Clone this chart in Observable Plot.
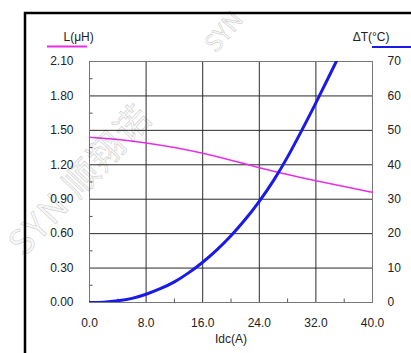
<!DOCTYPE html>
<html>
<head>
<meta charset="utf-8">
<script src="https://cdn.jsdelivr.net/npm/d3@7"></script>
<script src="https://cdn.jsdelivr.net/npm/@observablehq/plot@0.6"></script>
<style>
  html, body { margin: 0; padding: 0; background: #fff; }
  #chart svg { display: block; }
</style>
</head>
<body>
<div id="chart"></div>
<script>
// Tick labels
const idcTicks = [0, 8, 16, 24, 32, 40];
const idcMinor = [4, 12, 20, 28, 36];
const lTicks = [0, 0.3, 0.6, 0.9, 1.2, 1.5, 1.8, 2.1];
const lMinor = [0.15, 0.45, 0.75, 1.05, 1.35, 1.65, 1.95];
const tTicks = [0, 10, 20, 30, 40, 50, 60, 70];

// Inductance curve L(μH) vs Idc(A)
const idcL = [0, 4, 8, 12, 16, 20, 24, 28, 32, 36, 40];
const lValues = [1.44, 1.42, 1.39, 1.35, 1.30, 1.24, 1.175, 1.115, 1.06, 1.01, 0.96];

// Temperature rise ΔT(°C) vs Idc(A)
const idcT = [0, 2, 4, 6, 8, 10, 12, 14, 16, 18, 20, 22, 24, 26, 28, 30, 32, 34, 35];
const tValues = [0, 0.1, 0.5, 1.2, 2.4, 4.0, 6.0, 8.6, 11.7, 15.3, 19.4, 24.1, 29.4, 35.4, 42.3, 50.0, 58.0, 66.3, 70.5];

const lMax = 2.1, tMax = 70;
const k = lMax / tMax; // maps ΔT onto the L scale for the right-hand axis

const lData = idcL.map((x, i) => ({x, y: lValues[i]}));
const tData = idcT.map((x, i) => ({x, y: tValues[i] * k}));

const font = "'Liberation Sans', Arial, sans-serif";

const chart = Plot.plot({
  width: 411,
  height: 353,
  marginLeft: 89,
  marginRight: 39,
  marginTop: 61,
  marginBottom: 51,
  style: {fontFamily: font, fontSize: "12px", color: "#222", background: "#fff"},
  x: {domain: [0, 40]},
  y: {domain: [0, lMax]},
  marks: [
    Plot.gridX(idcTicks, {stroke: "#2a2a2a", strokeOpacity: 1}),
    Plot.gridY(lTicks, {stroke: "#2a2a2a", strokeOpacity: 1}),
    Plot.ruleY(lMinor, {y: d => d, x1: 0, x2: 0.5, stroke: "#555"}),
    Plot.ruleX(idcMinor, {x: d => d, y1: 0, y2: 0.03, stroke: "#555"}),
    Plot.frame({stroke: "#777"}),
    Plot.line(lData, {x: "x", y: "y", stroke: "#e62ee6", strokeWidth: 1.5, curve: "natural"}),
    Plot.line(tData, {x: "x", y: "y", stroke: "#1a1ae6", strokeWidth: 3, curve: "natural", clip: "frame"}),
    Plot.axisY(lTicks, {anchor: "left", label: null, tickSize: 0, tickPadding: 16, tickFormat: d => d.toFixed(2), fontSize: 12, fill: "#222"}),
    Plot.axisY(tTicks.map(t => t * k), {anchor: "right", label: null, tickSize: 0, tickPadding: 15, tickFormat: d => String(Math.round(d / k)), fontSize: 12, fill: "#222"}),
    Plot.axisX(idcTicks, {anchor: "bottom", label: null, tickSize: 0, tickPadding: 16, tickFormat: d => d.toFixed(1), fontSize: 12, fill: "#222"}),
    Plot.text(["Idc(A)"], {frameAnchor: "bottom", dy: 40, fontSize: 12, fill: "#222"}),
    Plot.text(["L(μH)"], {frameAnchor: "top-left", dx: -26, dy: -29, fontSize: 12, fill: "#222"}),
    Plot.text(["ΔT(°C)"], {frameAnchor: "top-right", dx: 17, dy: -29, fontSize: 12, fill: "#222"})
  ]
});

document.getElementById("chart").appendChild(chart);

// Decorations: legend underlines, outer border, watermark
const svg = d3.select(chart);
svg.append("line").attr("x1", 47).attr("x2", 87).attr("y1", 46.5).attr("y2", 46.5)
  .attr("stroke", "#e62ee6").attr("stroke-width", 2);
svg.append("line").attr("x1", 372).attr("x2", 411).attr("y1", 47).attr("y2", 47)
  .attr("stroke", "#1a1ae6").attr("stroke-width", 2);
svg.append("path").attr("d", "M25,353V13H411").attr("fill", "none")
  .attr("stroke", "#000").attr("stroke-width", 2.5);

const wm = svg.append("g").attr("pointer-events", "none")
  .attr("text-anchor", "start")
  .attr("font-family", "'Noto Sans CJK SC', 'Liberation Sans', sans-serif")
  .attr("fill", "rgba(0,0,0,0.04)").attr("stroke", "rgba(0,0,0,0.2)").attr("stroke-width", 0.7);
wm.append("text").attr("transform", "translate(24,258) rotate(-47)")
  .attr("font-size", 35).attr("letter-spacing", 2).text("SYN 顺翔诺");
wm.append("text").attr("transform", "translate(216,54) rotate(-50)")
  .attr("font-size", 24).text("SYN");
</script>
</body>
</html>
